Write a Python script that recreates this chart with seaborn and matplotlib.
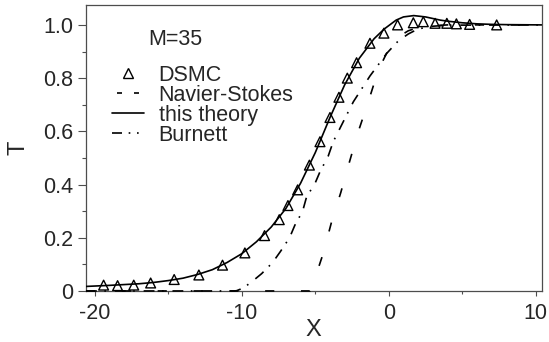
import numpy as np
import pandas as pd
import matplotlib
matplotlib.use("Agg")
import matplotlib.pyplot as plt
from matplotlib.lines import Line2D
import seaborn as sns

# DSMC points
dsmc_x = [-19.4, -18.45, -17.35, -16.2, -14.6, -12.92, -11.31, -9.79, -8.45, -7.45,
          -6.86, -6.2, -5.4, -4.68, -4.0, -3.39, -2.82, -2.19, -1.28, -0.33,
          0.6, 1.67, 2.35, 3.15, 3.95, 4.6, 5.5, 7.34]
dsmc_t = [0.022, 0.02, 0.022, 0.03, 0.043, 0.06, 0.097, 0.143, 0.208, 0.268,
          0.321, 0.38, 0.473, 0.561, 0.652, 0.728, 0.8, 0.858, 0.931, 0.969,
          1.0, 1.008, 1.012, 1.006, 1.006, 1.004, 1.002, 1.0]

# this theory (solid)
th_x = [-20.6, -19, -18, -17, -16, -15, -14, -13, -12, -11, -10, -9, -8, -7, -6, -5,
        -4, -3, -2, -1, -0.3, 0.5, 1.0, 1.7, 2.5, 3.0, 3.5, 4.0, 5.0, 6.0, 7.0, 8.0, 10.4]
th_t = [0.017, 0.021, 0.024, 0.027, 0.032, 0.039, 0.048, 0.062, 0.08, 0.107, 0.14,
        0.185, 0.24, 0.31, 0.405, 0.52, 0.652, 0.775, 0.875, 0.948, 0.985, 1.018,
        1.03, 1.035, 1.03, 1.024, 1.018, 1.014, 1.008, 1.004, 1.002, 1.001, 1.0]

# Navier-Stokes (dashed)
ns_x = [-20.6, -5.35, -5.14, -4.46, -3.89, -3.27, -2.69, -2.08, -1.4, -0.71, 0.0,
        0.65, 1.33, 2.0, 3.0, 4.0, 10.4]
ns_t = [0.0, 0.0, 0.028, 0.141, 0.26, 0.369, 0.482, 0.598, 0.71, 0.83, 0.91,
        0.955, 0.978, 0.99, 0.997, 1.0, 1.0]

# Burnett (dash-dot)
bu_x = [-20.6, -10.5, -10.35, -9.9, -9.33, -8.65, -7.9, -7.35, -6.75, -6.39, -5.86,
        -5.59, -5.02, -4.68, -4.12, -3.78, -2.87, -2.41, -1.28, -0.14, 0.65, 1.33,
        2.0, 3.0, 4.0, 10.4]
bu_t = [0.0, 0.0, 0.001, 0.011, 0.034, 0.065, 0.107, 0.15, 0.2, 0.247, 0.3,
        0.354, 0.404, 0.448, 0.507, 0.561, 0.661, 0.711, 0.808, 0.893, 0.94, 0.966,
        0.985, 0.995, 0.999, 1.0]

xticks = [-20, -10, 0, 10]
xticklabels = ["-20", "-10", "0", "10"]
yticks = [0, 0.2, 0.4, 0.6, 0.8, 1.0]
yticklabels = ["0", "0.2", "0.4", "0.6", "0.8", "1.0"]

sns.set_style("ticks")
plt.rcParams["font.family"] = ["Liberation Sans", "DejaVu Sans"]
plt.rcParams["axes.unicode_minus"] = False

fig = plt.figure(figsize=(5.49, 3.42), dpi=100)
ax = fig.add_axes([0.1566, 0.1477, 0.83, 0.8386])

lw = 1.2
ns_style = (0, (5.5, 16))
bu_style = (0, (6.5, 4.5, 1, 5.3))
sns.lineplot(x=ns_x, y=ns_t, ax=ax, color="k", lw=lw, linestyle=ns_style,
             clip_on=False, zorder=3)
sns.lineplot(x=th_x, y=th_t, ax=ax, color="k", lw=lw, zorder=3)
sns.lineplot(x=bu_x, y=bu_t, ax=ax, color="k", lw=lw, linestyle=bu_style,
             clip_on=False, zorder=3)
sns.scatterplot(x=dsmc_x, y=dsmc_t, ax=ax, marker="^", s=50, facecolor="none",
                edgecolor="k", linewidth=1.0, zorder=4)

ax.set_xlim(-20.6, 10.4)
ax.set_ylim(-0.002, 1.076)
ax.set_xticks(xticks)
ax.set_xticklabels(xticklabels)
ax.set_yticks(yticks)
ax.set_yticklabels(yticklabels)
ax.set_xticks([-15, -5, 5], minor=True)
ax.set_yticks([0.1, 0.3, 0.5, 0.7, 0.9], minor=True)
ax.tick_params(axis="both", which="major", labelsize=15.5, color="0.3", width=0.8)
ax.tick_params(axis="y", which="major", length=6, pad=3)
ax.tick_params(axis="x", which="major", length=3.5, pad=5)
ax.tick_params(axis="y", which="minor", length=3, color="0.3", width=0.8)
ax.tick_params(axis="x", which="minor", length=2.5, color="0.3", width=0.8)
for sp in ax.spines.values():
    sp.set_color("0.3")
    sp.set_linewidth(0.9)

ax.set_xlabel("X", fontsize=17, labelpad=-4)
ax.set_ylabel("T", fontsize=17, labelpad=10)

ax.text(0.136, 0.877, "M=35", transform=ax.transAxes, fontsize=15.5, ha="left", va="center")

# legend proxies (legend dash patterns are shorter than on the curves)
handles = [
    Line2D([], [], ls="none", marker="^", ms=7, mfc="none", mec="k", mew=1.0),
    Line2D([], [], color="k", lw=lw, ls=(7.2, (3, 7.2))),
    Line2D([], [], color="k", lw=lw),
    Line2D([], [], color="k", lw=lw, ls=(0, (6, 4, 1, 4, 1, 4))),
]
labels = ["DSMC", "Navier-Stokes", "this theory", "Burnett"]
ax.legend(handles, labels, loc="upper left",
          bbox_to_anchor=(0.058, 0.79), frameon=False, fontsize=15.5, borderpad=0,
          borderaxespad=0, labelspacing=-0.05, handlelength=1.45, handletextpad=0.7)

fig.savefig("out.png", dpi=100)
